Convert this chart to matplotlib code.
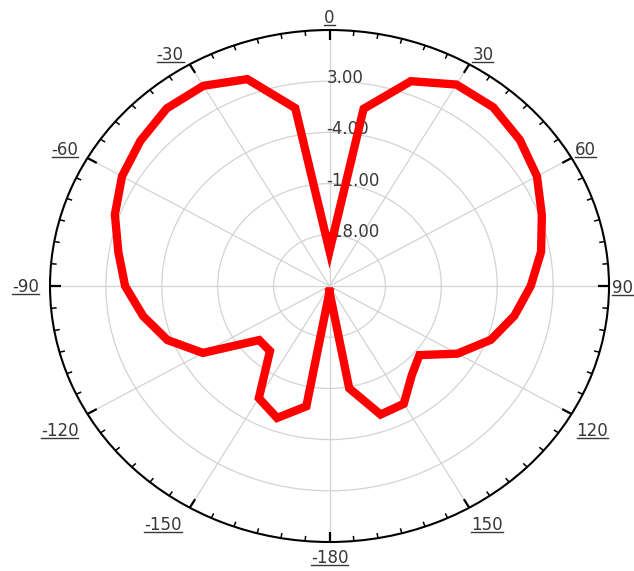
import numpy as np
import matplotlib
matplotlib.use("Agg")
import matplotlib.pyplot as plt
from matplotlib.transforms import ScaledTranslation
from matplotlib.lines import Line2D
from matplotlib.collections import LineCollection

plt.rcParams['font.family'] = ['DejaVu Sans']

# Data: pattern gain (dB) vs angle (deg)
angles = [-180, -170, -160, -150, -140, -130, -120, -110, -100, -90, -80, -70, -60,
          -50, -40, -30, -20, -10, 0, 10, 20, 30, 40, 50, 60, 70, 80, 90,
          100, 110, 120, 130, 140, 150, 160, 170, 180]
gain = [-24.2, -8.3, -5.8, -7.3, -13.4, -13.5, -6.7, -3.4, -1.3, 0.6, 1.85, 3.6, 5.0,
        5.9, 6.7, 6.6, 5.1, -0.3, -20.2, -0.4, 4.8, 6.8, 6.9, 6.1, 5.0, 3.3, 1.9, 0.2,
        -1.5, -3.5, -6.5, -10.3, -9.0, -6.4, -6.3, -10.8, -24.2]
r_rings = [-18, -11, -4, 3]
r_labels = ['-18.00', '-11.00', '-4.00', '3.00']
r_min, r_max = -25, 10
theta_ticks = [0, 30, 60, 90, 120, 150, 180, 210, 240, 270, 300, 330]
theta_labels = ['0', '30', '60', '90', '120', '150', '-180', '-150', '-120', '-90', '-60', '-30']

W, H, DPI = 634, 571, 100
TXT = '#383838'
fig = plt.figure(figsize=(W / DPI, H / DPI), dpi=DPI)
ax = fig.add_axes([50 / W, (H - 542) / H, 559 / W, 512 / H], projection='polar')
ax.set_aspect('auto')
ax.set_theta_zero_location('N')
ax.set_theta_direction(-1)
ax.set_rlim(r_min, r_max)

ax.set_xticks(np.deg2rad(theta_ticks))
ax.set_xticklabels([])
ax.tick_params(axis='x', length=0)
ax.set_yticks(r_rings)
ax.set_yticklabels([])
ax.grid(True, color='#d3d3d3', linewidth=0.9)
ax.spines['polar'].set_linewidth(1.5)
ax.spines['polar'].set_color('black')

# inward tick marks on the outer ring (every 5 deg, longer every 30 deg)
segs_major, segs_minor = [], []
for a in range(0, 360, 5):
    t = np.deg2rad(a)
    if a % 30 == 0:
        segs_major.append([(t, r_max), (t, r_max - 1.35)])
    else:
        segs_minor.append([(t, r_max), (t, r_max - 0.7)])
ax.add_collection(LineCollection(segs_major, colors='black', linewidths=1.6, zorder=6,
                                 transform=ax.transData))
ax.add_collection(LineCollection(segs_minor, colors='black', linewidths=1.1, zorder=6,
                                 transform=ax.transData))

# radial labels
for r, lab in zip(r_rings, r_labels):
    ax.text(0, r, lab, ha='left', va='baseline', fontsize=12, color=TXT, zorder=2,
            transform=ax.transData + ScaledTranslation(-3 / DPI, -2 / DPI, fig.dpi_scale_trans))

ax.plot(np.deg2rad(angles), gain, color='#ff0000', lw=6, solid_joinstyle='miter', zorder=5,
        clip_on=False)

# angle labels: (ha, va, dx px, dy px)
layout = {
    '0': ('center', 'bottom', 0, 3),
    '30': ('left', 'bottom', 3, 0),
    '60': ('left', 'bottom', 3, -1),
    '90': ('left', 'center', 3, -2),
    '120': ('left', 'top', 5, -8),
    '150': ('left', 'top', 2, -8),
    '-180': ('center', 'top', 0, -7),
    '-150': ('right', 'top', -8, -8),
    '-120': ('right', 'top', -9, -8),
    '-90': ('right', 'center', -11, -1),
    '-60': ('right', 'bottom', -9, -1),
    '-30': ('right', 'bottom', -6, 0),
}
texts = []
for th, lab in zip(theta_ticks, theta_labels):
    ha, va, dx, dy = layout[lab]
    t = ax.text(np.deg2rad(th), r_max, lab, ha=ha, va=va, fontsize=12, color=TXT,
                transform=ax.transData + ScaledTranslation(dx / DPI, dy / DPI, fig.dpi_scale_trans),
                clip_on=False)
    texts.append(t)

fig.canvas.draw()
renderer = fig.canvas.get_renderer()
for t in texts:
    bb = t.get_window_extent(renderer)
    y = bb.y0 + 2.0
    fig.add_artist(Line2D([bb.x0 / W, bb.x1 / W], [y / H, y / H], color=TXT, lw=1.0,
                          transform=fig.transFigure))

fig.savefig('out.png', dpi=DPI)
